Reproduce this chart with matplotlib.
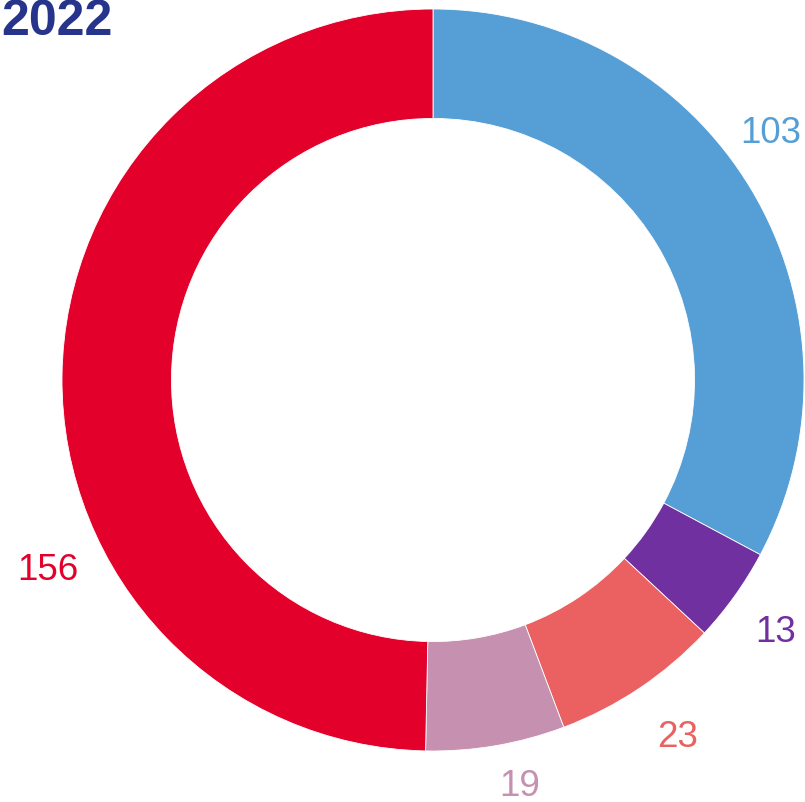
import matplotlib
matplotlib.use("Agg")
import matplotlib.pyplot as plt
import numpy as np

title = "2022"
values = [103, 13, 23, 19, 156]
labels = ["103", "13", "23", "19", "156"]
colors = ["#559fd6", "#70309f", "#eb6060", "#c690b0", "#e3002b"]
label_angle_offsets = [5.3, -0.7, 0.6, 2.3, 26.8]
label_radii = [1.13, 1.145, 1.165, 1.118, 1.158]

W, H = 805, 803
cx, cy, R = 433, 381, 371

plt.rcParams['font.family'] = ['Liberation Sans', 'DejaVu Sans']
fig = plt.figure(figsize=(W / 100, H / 100), dpi=100)
ax = fig.add_axes([0, 0, 1, 1])
wedges, _ = ax.pie(values, startangle=90, counterclock=False, radius=1.0,
                   colors=colors,
                   wedgeprops=dict(width=0.295, edgecolor='white', linewidth=0.6))

total = sum(values)
start = 90.0
for v, lab, col, off, rr in zip(values, labels, colors, label_angle_offsets, label_radii):
    span = v / total * 360.0
    mid = start - span / 2.0 + off
    start -= span
    a = np.deg2rad(mid)
    ax.text(rr * np.cos(a), rr * np.sin(a), lab, color=col, fontsize=26.5,
            ha='center', va='center')

ax.set_xlim(-cx / R, (W - cx) / R)
ax.set_ylim(-(H - cy) / R, cy / R)
ax.set_aspect('auto')
ax.axis('off')

fig.text(0.001, 1 - 22 / H, title, color="#27348b", fontsize=36, fontweight='bold',
         ha='left', va='center')

fig.savefig("out.png", dpi=100)
